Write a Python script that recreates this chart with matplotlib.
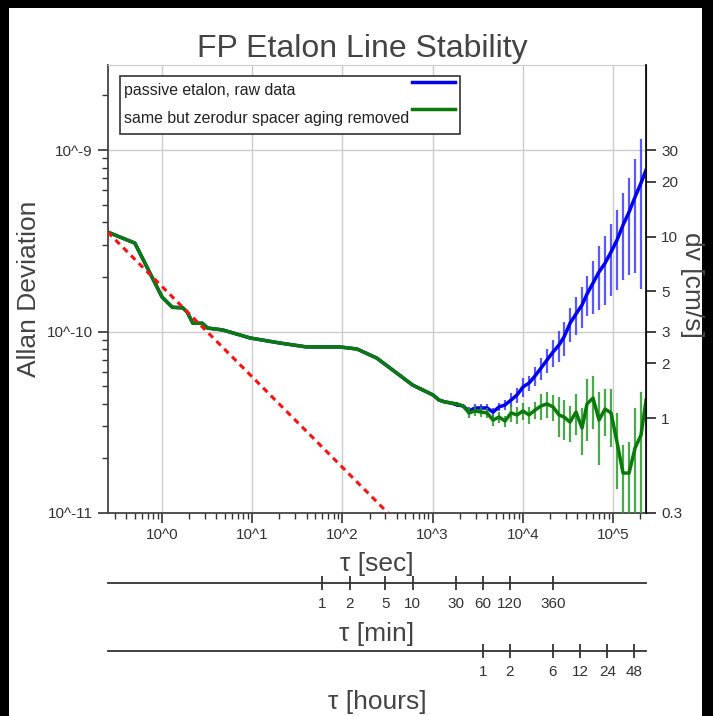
import numpy as np
import matplotlib
matplotlib.use("Agg")
import matplotlib.pyplot as plt
from matplotlib.ticker import FixedLocator, NullLocator, LogLocator, NullFormatter
from matplotlib.patches import Rectangle

plt.rcParams['font.family'] = ['Liberation Sans', 'DejaVu Sans']

# averaging times [s], common part (raw and corrected identical)
tau_common = [0.25, 0.5, 1.0, 1.3, 1.7, 1.9, 2.2, 2.8, 3.2, 4.7, 9.5, 20, 34, 40,
              94, 145, 240, 360, 600]
adev_common = [35.3, 30.7, 15.5, 13.6, 13.5, 12.8, 11.1, 11.1, 10.45, 10.2, 9.21,
               8.65, 8.32, 8.22, 8.22, 8.01, 7.14, 6.14, 5.07]   # units of 1e-11

# long-tau part with error bars
tau_tail = [1010, 1178, 1373, 1600, 1865, 2173, 2532, 2952, 3440, 4010, 4672, 5446,
            6347, 7398, 8623, 10050, 11720, 13650, 15910, 18550, 21620, 25190,
            28630, 33370, 38890, 45330, 51490, 60010, 69950, 81530, 95030, 110700,
            129100, 150500, 175400, 204400, 232200]
raw_adev = [4.47, 4.19, 4.09, 4.04, 3.94, 3.89, 3.65, 3.79, 3.79, 3.79, 3.60, 3.84,
            3.94, 4.19, 4.47, 4.95, 5.20, 5.69, 6.29, 6.97, 7.71, 8.43, 9.33, 11.1,
            12.5, 14.0, 16.1, 18.5, 21.3, 23.8, 27.4, 31.9, 38.6, 45.5, 55.1, 65.8, 77.6]
raw_err = [0.1, 0.1, 0.1, 0.1, 0.1, 0.1, 0.2, 0.2, 0.2, 0.2, 0.2, 0.2,
           0.25, 0.37, 0.43, 0.59, 0.47, 0.7, 0.9, 1.09, 1.3, 1.6, 2.0, 2.37,
           2.95, 3.55, 4.0, 6.0, 8.1, 9.8, 11.8, 15.0, 19.4, 25.0, 34.0, 48.7, 0]
corr_adev = [4.47, 4.19, 4.09, 4.04, 3.99, 3.89, 3.56, 3.65, 3.60, 3.56, 3.25, 3.38,
             3.21, 3.56, 3.47, 3.65, 3.47, 3.69, 3.89, 3.99, 3.84, 3.47, 3.38, 3.17,
             3.60, 2.94, 3.99, 4.30, 3.25, 3.74, 3.56, 2.46, 1.66, 1.66, 2.28, 2.69, 4.19]
corr_err = [0.1, 0.1, 0.1, 0.1, 0.1, 0.1, 0.23, 0.23, 0.23, 0.23, 0.23, 0.23,
            0.23, 0.38, 0.38, 0.38, 0.38, 0.38, 0.64, 0.64, 0.64, 0.86, 0.84, 0.71,
            0.9, 0.86, 1.49, 1.39, 1.42, 1.1, 1.26, 1.1, 0.71, 0.8, 1.5, 1.95, 0]

# white frequency noise guide (end points)
tau_white = [0.25, 320]
adev_white = [3.53e-10, 1.0e-11]

labels = ['passive etalon, raw data', 'same but zerodur spacer aging removed']
min_ticks = [1, 2, 5, 10, 30, 60, 120, 360]
hour_ticks = [1, 2, 6, 12, 24, 48]
dv_ticks = [0.3, 1, 2, 3, 5, 10, 20, 30]
c_cm = 3e10   # cm/s

xmin, xmax = 0.252, 2.32e5
ymin, ymax = 1e-11, 2.94e-9

tau = np.array(tau_common + tau_tail)
raw = np.array(adev_common + raw_adev) * 1e-11
corr = np.array(adev_common + corr_adev) * 1e-11
raw_e = np.array(raw_err) * 1e-11
corr_e = np.array(corr_err) * 1e-11

blue, green = '#0000ee', '#0b7a0b'
txt = '#444444'

W, H = 713, 716
fig = plt.figure(figsize=(W / 100, H / 100), dpi=100)
fig.patch.set_facecolor('black')
fig.patches.append(Rectangle((9 / W, 0), (702 - 9) / W, (H - 8) / H,
                             transform=fig.transFigure, facecolor='white',
                             edgecolor='none', zorder=-10))

L, R, T, B = 108, 646, 65, 513
ax = fig.add_axes([L / W, 1 - B / H, (R - L) / W, (B - T) / H])
ax.set_facecolor('white')
ax.set_xscale('log')
ax.set_yscale('log')

ax.errorbar(tau_tail, np.array(raw_adev) * 1e-11, yerr=raw_e, fmt='none',
            ecolor='#2222ff', elinewidth=1.6, alpha=0.75, zorder=2)
ax.plot(tau, raw, color=blue, lw=2.5, zorder=3)
ax.errorbar(tau_tail, np.array(corr_adev) * 1e-11, yerr=corr_e, fmt='none',
            ecolor='#2a9a2a', elinewidth=1.6, alpha=0.85, zorder=4)
ax.plot(tau, corr, color=green, lw=2.5, zorder=5)
ax.plot(tau_white, adev_white, color='#ff1111', lw=2.2, ls=(0, (2, 1.6)), zorder=6)

ax.set_xlim(xmin, xmax)
ax.set_ylim(ymin, ymax)

ax.xaxis.set_major_locator(FixedLocator([1, 10, 100, 1e3, 1e4, 1e5]))
ax.set_xticklabels(['10^0', '10^1', '10^2', '10^3', '10^4', '10^5'])
ax.xaxis.set_minor_locator(LogLocator(base=10, subs=np.arange(2, 10)))
ax.xaxis.set_minor_formatter(NullFormatter())
ax.yaxis.set_major_locator(FixedLocator([1e-11, 1e-10, 1e-9]))
ax.set_yticklabels(['10^-11', '10^-10', '10^-9'])
ax.yaxis.set_minor_locator(LogLocator(base=10, subs=np.arange(2, 10)))
ax.yaxis.set_minor_formatter(NullFormatter())

ax.grid(True, which='major', color='#cccccc', lw=1)
ax.tick_params(which='major', direction='out', length=7, width=1.2, color='#333333',
               labelsize=11, labelcolor='#333333', pad=4)
ax.tick_params(which='minor', direction='out', length=4, width=1, color='#333333')
ax.spines['top'].set_color('#cccccc')
for s in ['left', 'bottom']:
    ax.spines[s].set_color('#444444')
    ax.spines[s].set_linewidth(1.3)

ax.set_title('FP Etalon Line Stability', fontsize=23, color=txt, pad=6,
             x=(362 - L) / (R - L))
ax.set_ylabel('Allan Deviation', fontsize=19, color=txt)
ax.yaxis.set_label_coords((41 - L) / (R - L), 0.5)
ax.set_xlabel('τ [sec]', fontsize=19, color=txt)
ax.xaxis.set_label_coords(0.5, (B - 552) / (B - T))


# legend box drawn by hand: text left, line samples at upper right of each row
def fx(px):
    return (px - L) / (R - L)


def fy(py):
    return (B - py) / (B - T)


ax.add_patch(Rectangle((fx(120), fy(134)), fx(460) - fx(120), fy(76) - fy(134),
                       transform=ax.transAxes, facecolor='white',
                       edgecolor='#333333', lw=1.2, zorder=10))
for lab, col, ty, ly in zip(labels, [blue, green], [91, 118], [82, 109]):
    ax.text(fx(124), fy(ty), lab, transform=ax.transAxes, fontsize=11.4,
            color='#222222', va='center', ha='left', zorder=11)
    ax.plot([fx(412), fx(455)], [fy(ly), fy(ly)], transform=ax.transAxes,
            color=col, lw=2.5, zorder=11, clip_on=False)

# right axis in velocity units
ax2 = ax.twinx()
ax2.set_yscale('log')
ax2.set_ylim(ymin * c_cm, ymax * c_cm)
ax2.yaxis.set_major_locator(FixedLocator(dv_ticks))
ax2.set_yticklabels([str(v) for v in dv_ticks])
ax2.yaxis.set_minor_locator(NullLocator())
ax2.tick_params(axis='y', direction='out', length=7, width=1.2, color='#222222',
                labelsize=11, labelcolor='#333333', pad=4)
ax2.spines['right'].set_color('#111111')
ax2.spines['right'].set_linewidth(1.3)
for s in ['top', 'left', 'bottom']:
    ax2.spines[s].set_visible(False)
ax2.set_ylabel('dv [cm/s]', fontsize=19, color=txt, rotation=-90,
               va='center', ha='center')
ax2.yaxis.set_label_coords((692 - L) / (R - L), 0.51)


def extra_axis(ypix, ticks, scale, label):
    a = fig.add_axes([L / W, 1 - ypix / H, (R - L) / W, 1e-4])
    a.set_xscale('log')
    a.set_xlim(xmin, xmax)
    a.set_yticks([])
    for s in ['top', 'left', 'right']:
        a.spines[s].set_visible(False)
    a.spines['bottom'].set_color('#333333')
    a.spines['bottom'].set_linewidth(1.3)
    a.xaxis.set_major_locator(FixedLocator([t * scale for t in ticks]))
    a.set_xticklabels([str(t) for t in ticks])
    a.xaxis.set_minor_locator(NullLocator())
    a.tick_params(axis='x', direction='inout', length=10, width=1.2, color='#222222',
                  labelsize=11, labelcolor='#333333', pad=5)
    a.set_xlabel(label, fontsize=19, color=txt, labelpad=8)
    a.patch.set_visible(False)
    return a


extra_axis(583, min_ticks, 60, 'τ [min]')
extra_axis(651, hour_ticks, 3600, 'τ [hours]')

fig.savefig('out.png', dpi=100, facecolor=fig.get_facecolor())
